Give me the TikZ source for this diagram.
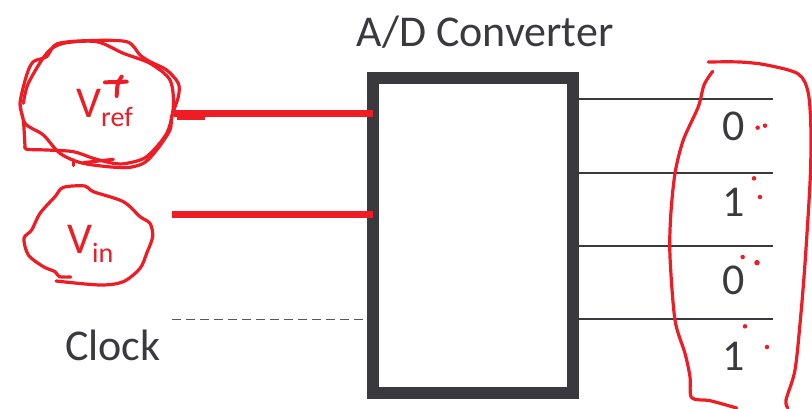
\documentclass[tikz,border=0pt]{standalone}
\usepackage{fontspec}
\setmainfont{Carlito}
\usetikzlibrary{positioning}

\definecolor{inkdark}{HTML}{3A3A3E}
\definecolor{inkred}{HTML}{EE1C25}
\newcommand{\bigtxt}{\fontsize{44}{44}\selectfont}
\newcommand{\subtxt}{\fontsize{28}{28}\selectfont}

\begin{document}
\begin{tikzpicture}[
    x=1pt, y=-1pt,
    converter/.style={draw=inkdark, line width=12pt, outer sep=0pt, minimum width=200pt, minimum height=315pt},
    label/.style={inner sep=0pt, anchor=base west, text=inkdark},
    redlabel/.style={inner sep=0pt, anchor=base west, text=inkred},
    outline/.style={inkred, line width=3.2pt, line cap=round, line join=round},
    redwire/.style={inkred, line width=6.5pt},
    bitwire/.style={inkdark, line width=2pt},
    speck/.style={circle, fill=inkred, inner sep=0pt, minimum size=4.5pt}
]
\useasboundingbox (0,0) rectangle (812,408);

% Converter block
\node[converter] (adc) at (473,235.5) {};
\node[label, anchor=base] (title) at (485,46) {\bigtxt A/D Converter};

% Labels on the left
\node[redlabel] (vref) at (76,117) {\bigtxt V\raisebox{-9pt}{\subtxt ref}};
\node[redlabel] (vin) at (67,253) {\bigtxt V\raisebox{-9pt}{\subtxt in}};
\node[label] (clock) at (65,360) {\bigtxt Clock};

% Left connectors
\coordinate (vrefend) at (174,113.3);
\coordinate (vinend) at (172,214.3);
\coordinate (clockend) at (172,319.5);
\coordinate (clockin) at (365,319.5);
\draw[redwire] (vrefend) -- (vrefend -| adc.west);
\draw[redwire] (vinend) -- (vinend -| adc.west);
\draw[inkdark!85, line width=1.6pt, dash pattern=on 9pt off 5pt] (clockend) -- (clockin);

% Output lines and bits
\foreach \i/\y/\b/\t in {1/99/0/140,2/173/1/216,3/246/0/294,4/319/1/370} {
    \coordinate (out\i) at (773,\y);
    \draw[bitwire] (out\i -| adc.east) -- (out\i);
    \node[label, anchor=base] (bit\i) at (734,\t) {\bigtxt \b};
}

% Scribble round the reference voltage
\begin{scope}[shift={(0,20)}, scale=1/3]
\coordinate (wirestub) at (532,295);
\coordinate (wirestubend) at (616,295);
\draw[inkred, line width=3.5pt] (wirestub) -- (wirestubend);
\draw[outline] plot[smooth] coordinates {(75,380) (70,300) (60,250) (80,165) (100,125) (140,110) (170,72) (260,62) (380,65) (420,105) (450,125) (500,150) (535,190) (535,230) (515,290) (510,330) (470,390) (430,430) (370,443) (250,430) (180,400) (130,345) (75,310) (60,250)};
\draw[outline] plot[smooth] coordinates {(70,250) (85,190) (140,100) (190,70) (290,65) (370,100) (450,130) (510,180) (520,260) (500,340) (440,410) (380,430) (340,430) (280,415) (220,395) (140,390) (80,388) (75,380)};
\draw[outline] (250,428) -- (340,418);
\draw[outline] (220,420) -- (220,437);
\draw[outline, line width=4pt] (315,187) -- (380,185);
\draw[outline, line width=4pt] (365,170) .. controls (352,190) .. (350,228);
% Scribble round the input voltage
\draw[outline] plot[smooth] coordinates {(168,783) (300,795) (370,785) (420,745) (440,700) (458,650) (450,610) (420,590) (370,545) (280,515) (255,498) (190,502) (165,530) (120,580) (95,630) (72,655) (85,705) (130,740) (165,755) (178,770) (212,771)};
\end{scope}

% Scribble round the bits
\begin{scope}[shift={(560,50)}, scale=1/3]
\draw[outline] plot[smooth] coordinates {(445,36) (540,36) (620,45) (715,72) (745,130) (753,250) (750,400) (735,640) (722,800) (705,960) (678,1050) (684,1074)};
\draw[outline] plot[smooth] coordinates {(458,64) (432,105) (415,170) (370,270) (345,370) (332,500) (330,620) (345,810) (375,910) (390,980) (395,1043) (450,1052) (530,1074)};
\node[speck] (s1) at (593,233) {};
\node[speck] (s2) at (615,227) {};
\node[speck] (s3) at (582,385) {};
\node[speck] (s4) at (600,441) {};
\node[speck] (s5) at (548,621) {};
\node[speck, minimum size=5.5pt] (s6) at (591,638) {};
\node[speck] (s7) at (555,829) {};
\node[speck] (s8) at (621,891) {};
\end{scope}

\end{tikzpicture}
\end{document}
